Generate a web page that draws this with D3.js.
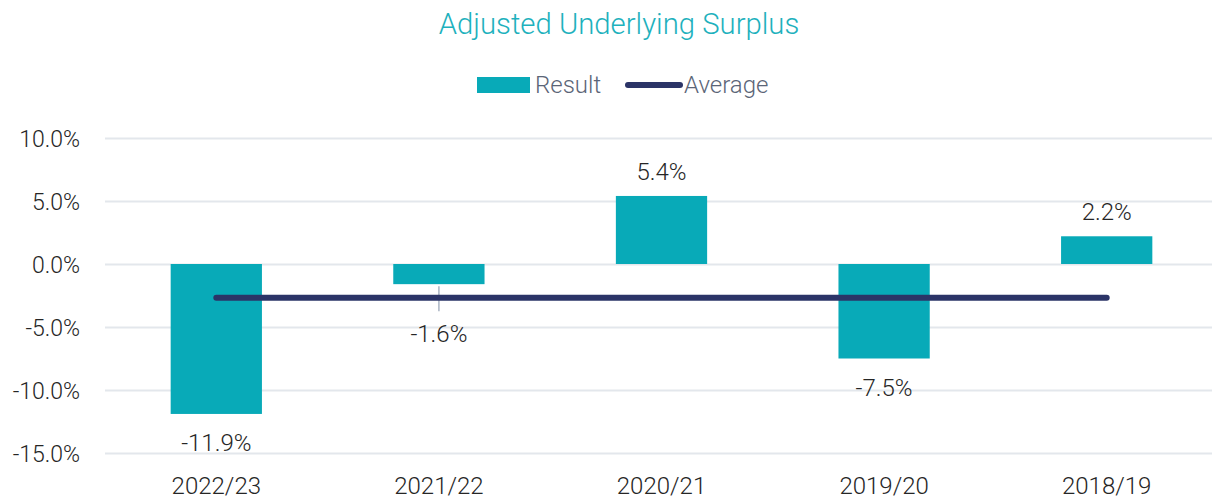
<!DOCTYPE html>
<html>
<head>
<meta charset="utf-8">
<script src="https://cdn.jsdelivr.net/npm/d3@7"></script>
<style>
  body { margin: 0; background: #fff; }
  text { font-family: Roboto, "Open Sans", sans-serif; font-weight: 300; }
</style>
</head>
<body>
<svg id="drawing_region"></svg>
<script>
const categories = ['2022/23', '2021/22', '2020/21', '2019/20', '2018/19'];
const results = [-11.9, -1.6, 5.4, -7.5, 2.2];
const average = [-2.68, -2.68, -2.68, -2.68, -2.68];
const yticks = [10, 5, 0, -5, -10, -15];

const width = 1212, height = 499;
const margin = {top: 138, left: 105, bottom: 46};

const pct = d => d3.format('.1f')(d).replace('\u2212', '-') + '%';

const svg = d3.select('#drawing_region')
    .attr('width', width)
    .attr('height', height);

const xscale = d3.scaleBand()
    .domain(categories)
    .range([margin.left, 1218])
    .paddingInner(0.59)
    .paddingOuter(0.295);

const yscale = d3.scaleLinear()
    .domain([-15, 10])
    .range([453, 138]);

// title
svg.append('text')
    .attr('x', 619).attr('y', 34)
    .attr('text-anchor', 'middle')
    .attr('font-size', 29.3)
    .attr('fill', '#1eb1bd')
    .text('Adjusted Underlying Surplus');

// legend
const legend = svg.append('g');
legend.append('rect')
    .attr('x', 477).attr('y', 77).attr('width', 53).attr('height', 16)
    .attr('fill', '#08aab8');
legend.append('text')
    .attr('x', 535).attr('y', 93)
    .attr('font-size', 24).attr('fill', '#5b6577')
    .text('Result');
legend.append('line')
    .attr('x1', 628).attr('x2', 680).attr('y1', 85).attr('y2', 85)
    .attr('stroke', '#2b3467').attr('stroke-width', 6).attr('stroke-linecap', 'round');
legend.append('text')
    .attr('x', 684).attr('y', 93)
    .attr('font-size', 24).attr('fill', '#5b6577')
    .text('Average');

// grid
const yaxis = d3.axisLeft(yscale)
    .tickValues(yticks)
    .tickSize(-(width - margin.left))
    .tickFormat(pct);

const yaxis_group = svg.append('g')
    .attr('transform', `translate(${margin.left},0)`)
    .call(yaxis);
yaxis_group.select('.domain').remove();
yaxis_group.selectAll('line')
    .attr('stroke', '#e3e7ec').attr('stroke-width', 2);
yaxis_group.selectAll('text')
    .attr('x', -25).attr('dy', '0.35em')
    .attr('font-size', 23).attr('fill', '#262626')
    .attr('font-family', 'Roboto, sans-serif');

// x axis labels
const xaxis = d3.axisBottom(xscale).tickSize(0);
const xaxis_group = svg.append('g')
    .attr('transform', `translate(0,${height - margin.bottom})`)
    .call(xaxis);
xaxis_group.select('.domain').remove();
xaxis_group.selectAll('text')
    .attr('y', 41).attr('dy', 0)
    .attr('font-size', 24).attr('fill', '#262626')
    .attr('font-family', 'Roboto, sans-serif');

const data = categories.map((c, i) => ({label: c, value: results[i], avg: average[i]}));

// bars
svg.selectAll('rect.bar')
    .data(data)
    .join('rect')
    .attr('class', 'bar')
    .attr('x', d => xscale(d.label))
    .attr('y', d => yscale(Math.max(0, d.value)))
    .attr('width', xscale.bandwidth())
    .attr('height', d => Math.abs(yscale(d.value) - yscale(0)))
    .attr('fill', '#08aab8');

// leader line for the displaced label
svg.append('line')
    .attr('x1', xscale('2021/22') + xscale.bandwidth() / 2)
    .attr('x2', xscale('2021/22') + xscale.bandwidth() / 2)
    .attr('y1', yscale(results[1]) + 2)
    .attr('y2', yscale(results[1]) + 27)
    .attr('stroke', '#aab4c3').attr('stroke-width', 1.5);

// average line
const line = d3.line()
    .x(d => xscale(d.label) + xscale.bandwidth() / 2)
    .y(d => yscale(d.avg));
svg.append('path')
    .datum(data)
    .attr('d', line)
    .attr('fill', 'none')
    .attr('stroke', '#2b3467')
    .attr('stroke-width', 6)
    .attr('stroke-linecap', 'round');

// value labels
const offsets = {'2021/22': 58};
svg.selectAll('text.value')
    .data(data)
    .join('text')
    .attr('class', 'value')
    .attr('x', d => xscale(d.label) + xscale.bandwidth() / 2)
    .attr('y', d => d.value >= 0
        ? yscale(d.value) - 16
        : yscale(d.value) + (offsets[d.label] || 37))
    .attr('text-anchor', 'middle')
    .attr('font-size', 24)
    .attr('fill', '#262626')
    .text(d => pct(d.value));
</script>
</body>
</html>
